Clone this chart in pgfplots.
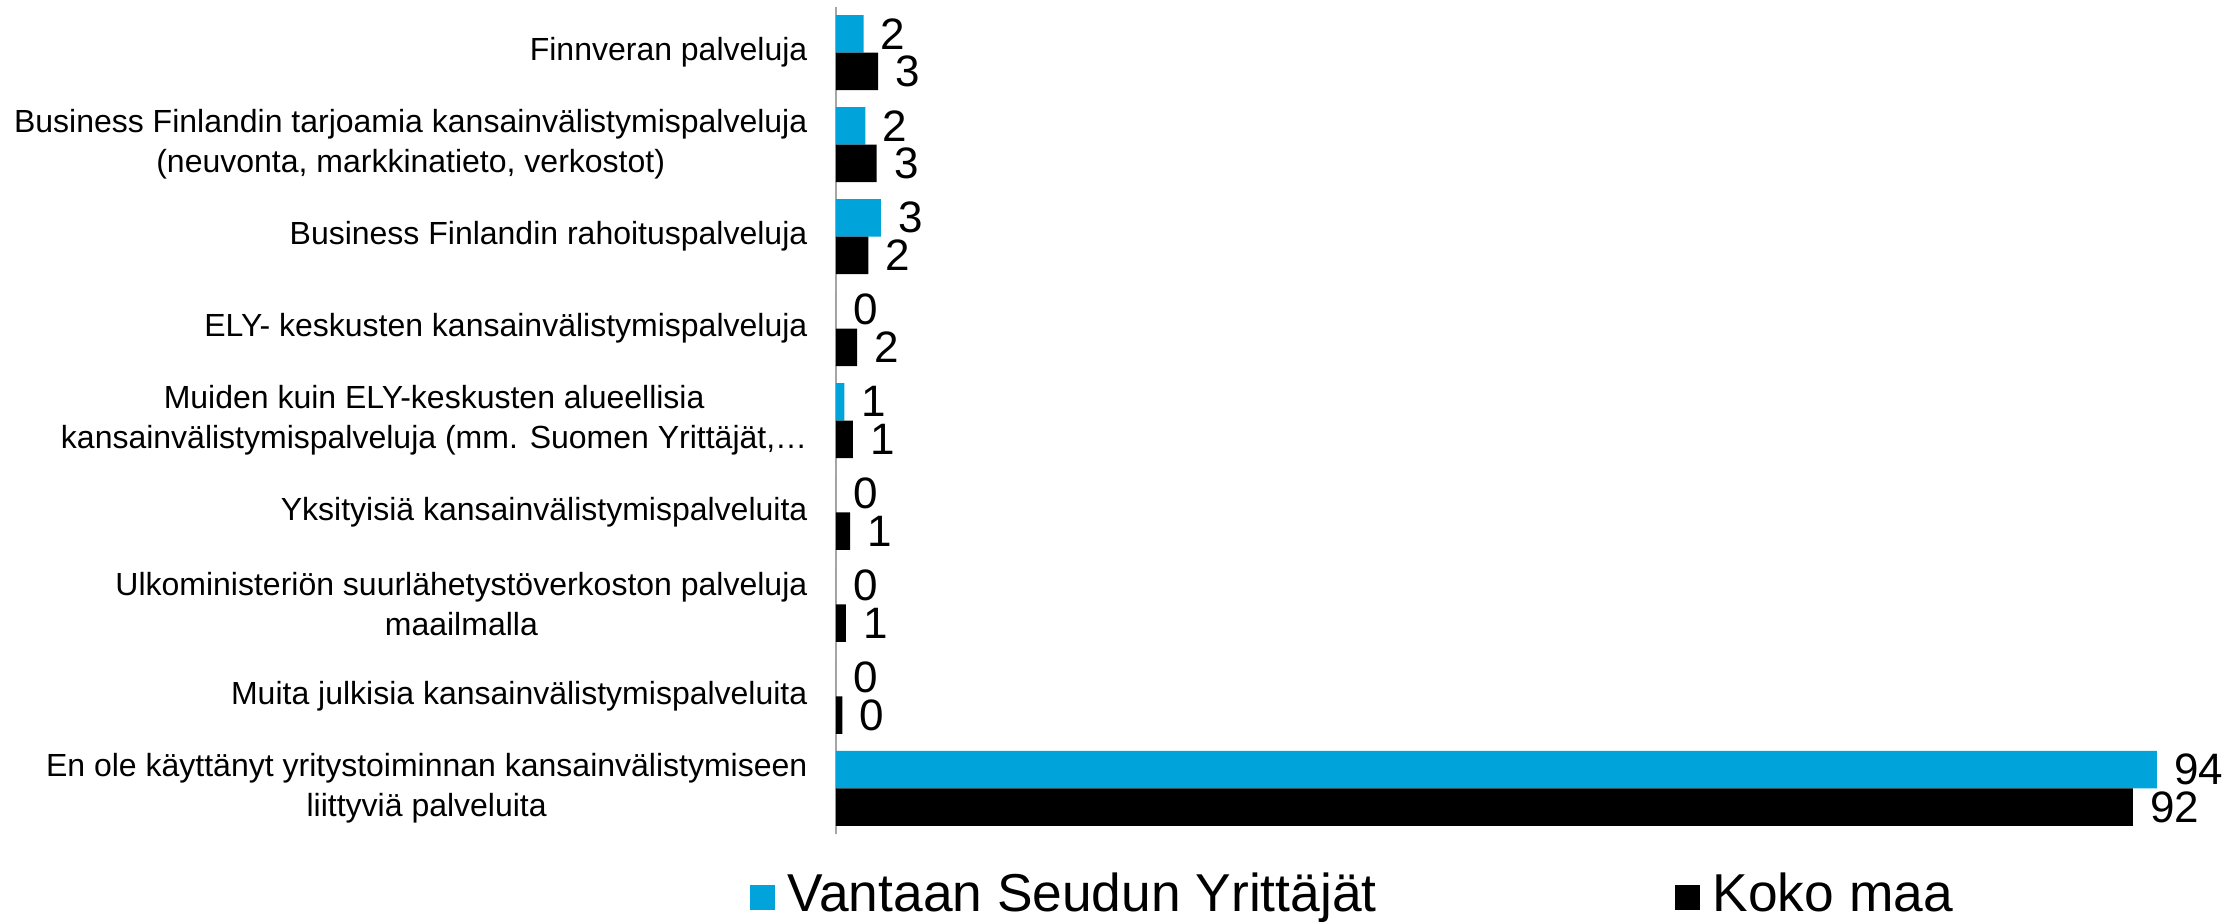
\documentclass[border=0pt]{standalone}
\usepackage{pgfplots}
\pgfplotsset{compat=1.18}
\usepackage{pgfplotstable}
\usepackage{fontspec}
\setmainfont{Liberation Sans}
\definecolor{vblue}{RGB}{0,163,218}
\pgfplotstableread{
y vb lb vk lk
8 1.96 2 3.0 3
7 2.1 2 2.9 3
6 3.2 3 2.3 2
5 0 0 1.5 2
4 0.6 1 1.2 1
3 0 0 1.0 1
2 0 0 0.7 1
1 0 0 0.45 0
0 94 94 92.3 92
}\datatable
\begin{document}
\begin{tikzpicture}
\useasboundingbox (-250.8pt,-26.85pt) rectangle (416.4pt,250.35pt);
\begin{axis}[
 scale only axis, width=413.1pt, height=248.4pt,
 xmin=0, xmax=98, ymin=-0.5, ymax=8.5,
 xbar, bar width=11.25pt,
 axis x line=none, axis y line=left,
 y axis line style={-, draw=gray!70, line width=0.6pt},
 ytick={0,...,8},
 yticklabels={{En ole käyttänyt yritystoiminnan kansainvälistymiseen\\liittyviä palveluita},
  {Muita julkisia kansainvälistymispalveluita},
  {Ulkoministeriön suurlähetystöverkoston palveluja\\maailmalla},
  {Yksityisiä kansainvälistymispalveluita},
  {Muiden kuin ELY-keskusten alueellisia\\kansainvälistymispalveluja (mm. Suomen Yrittäjät,…},
  {ELY- keskusten kansainvälistymispalveluja},
  {Business Finlandin rahoituspalveluja},
  {Business Finlandin tarjoamia kansainvälistymispalveluja\\(neuvonta, markkinatieto, verkostot)},
  {Finnveran palveluja}},
 major tick length=0pt,
 yticklabel style={align=center, font=\fontsize{9.6}{12}\selectfont, inner sep=0pt, xshift=-8.4pt},
 clip=false,
 nodes near coords={\pgfplotspointmeta}, point meta=explicit symbolic,
 every node near coord/.append style={font=\fontsize{13.2}{15}\selectfont, anchor=west, inner sep=0pt, xshift=5pt},
 legend columns=2,
 legend style={draw=none, fill=none, at={(-0.0632,-0.0723)}, anchor=west, inner sep=0pt,
   font=\fontsize{16}{19}\selectfont, nodes={inner sep=0pt},
   /tikz/every odd column/.append style={column sep=3.9pt},
   /tikz/every even column/.append style={column sep=89.4pt}},
 legend image code/.code={\fill[#1] (0pt,-4.8pt) rectangle (7.5pt,2.7pt);},
]
\addplot[fill=vblue, draw=none, bar shift=5.625pt] table[x=vb, y=y, meta=lb] {\datatable};
\addlegendentry{Vantaan Seudun Yrittäjät}
\addplot[fill=black, draw=none, bar shift=-5.625pt] table[x=vk, y=y, meta=lk] {\datatable};
\addlegendentry{Koko maa}
\end{axis}
\end{tikzpicture}
\end{document}
